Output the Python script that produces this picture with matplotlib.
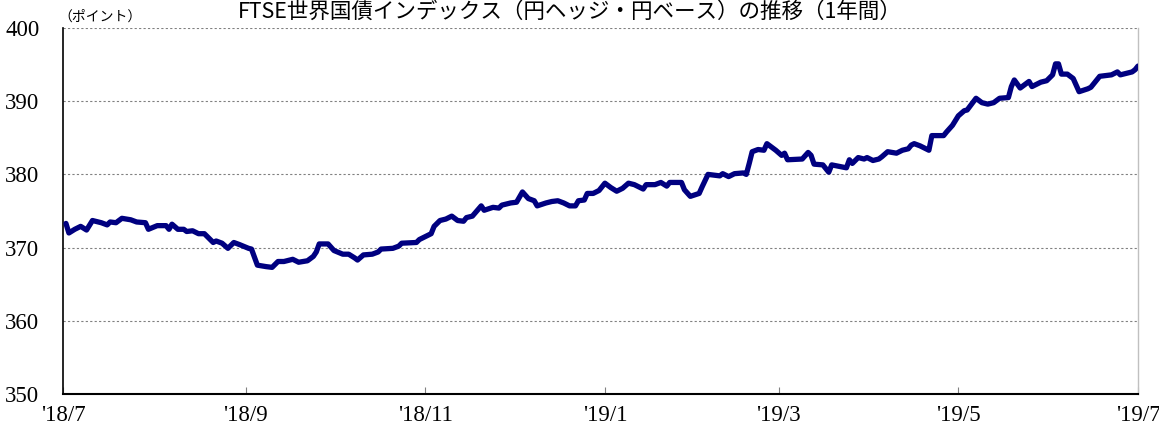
import matplotlib
matplotlib.use("Agg")
import matplotlib.pyplot as plt
import pandas as pd

title = "FTSE世界国債インデックス（円ヘッジ・円ベース）の推移（1年間）"
unit_label = "（ポイント）"

dates = [
    "2018-07-02", "2018-07-03", "2018-07-05", "2018-07-07", "2018-07-09", "2018-07-11",
    "2018-07-14", "2018-07-16", "2018-07-17", "2018-07-19", "2018-07-21", "2018-07-24",
    "2018-07-26", "2018-07-29", "2018-07-30", "2018-08-02", "2018-08-05", "2018-08-06",
    "2018-08-07", "2018-08-09", "2018-08-11", "2018-08-12", "2018-08-14", "2018-08-16",
    "2018-08-18", "2018-08-21", "2018-08-22", "2018-08-24", "2018-08-26", "2018-08-28",
    "2018-08-30", "2018-09-02", "2018-09-03", "2018-09-05", "2018-09-08", "2018-09-10",
    "2018-09-12", "2018-09-14", "2018-09-17", "2018-09-19", "2018-09-22", "2018-09-24",
    "2018-09-25", "2018-09-26", "2018-09-29", "2018-10-01", "2018-10-04", "2018-10-06",
    "2018-10-08", "2018-10-09", "2018-10-11", "2018-10-14", "2018-10-16", "2018-10-17",
    "2018-10-21", "2018-10-23", "2018-10-24", "2018-10-29", "2018-10-30", "2018-11-01",
    "2018-11-03", "2018-11-04", "2018-11-06", "2018-11-08", "2018-11-10", "2018-11-12",
    "2018-11-14", "2018-11-15", "2018-11-17", "2018-11-20", "2018-11-21", "2018-11-24",
    "2018-11-26", "2018-11-27", "2018-11-30", "2018-12-02", "2018-12-04", "2018-12-06",
    "2018-12-08", "2018-12-09", "2018-12-12", "2018-12-14", "2018-12-16", "2018-12-18",
    "2018-12-20", "2018-12-22", "2018-12-23", "2018-12-25", "2018-12-26", "2018-12-28",
    "2018-12-30", "2019-01-01", "2019-01-03", "2019-01-05", "2019-01-07", "2019-01-09",
    "2019-01-11", "2019-01-14", "2019-01-15", "2019-01-18", "2019-01-20", "2019-01-22",
    "2019-01-23", "2019-01-27", "2019-01-28", "2019-01-30", "2019-02-02", "2019-02-03",
    "2019-02-05", "2019-02-07", "2019-02-09", "2019-02-10", "2019-02-12", "2019-02-14",
    "2019-02-17", "2019-02-18", "2019-02-19", "2019-02-20", "2019-02-22", "2019-02-24",
    "2019-02-25", "2019-02-28", "2019-03-02", "2019-03-03", "2019-03-04", "2019-03-09",
    "2019-03-11", "2019-03-12", "2019-03-13", "2019-03-16", "2019-03-18", "2019-03-19",
    "2019-03-24", "2019-03-25", "2019-03-26", "2019-03-28", "2019-03-30", "2019-03-31",
    "2019-04-02", "2019-04-04", "2019-04-05", "2019-04-07", "2019-04-10", "2019-04-12",
    "2019-04-14", "2019-04-15", "2019-04-16", "2019-04-18", "2019-04-21", "2019-04-22",
    "2019-04-26", "2019-04-27", "2019-04-29", "2019-05-01", "2019-05-03", "2019-05-04",
    "2019-05-07", "2019-05-09", "2019-05-11", "2019-05-13", "2019-05-15", "2019-05-18",
    "2019-05-19", "2019-05-20", "2019-05-22", "2019-05-23", "2019-05-25", "2019-05-26",
    "2019-05-29", "2019-05-31", "2019-06-02", "2019-06-03", "2019-06-04", "2019-06-05",
    "2019-06-07", "2019-06-09", "2019-06-11", "2019-06-14", "2019-06-15", "2019-06-18",
    "2019-06-20", "2019-06-22", "2019-06-24", "2019-06-25", "2019-06-27", "2019-06-29",
    "2019-06-30", "2019-07-01",
]

values = [
    373.3, 372.0, 372.5, 372.9, 372.4, 373.7,
    373.4, 373.1, 373.5, 373.4, 374.0, 373.8,
    373.5, 373.4, 372.5, 373.0, 373.0, 372.5,
    373.2, 372.5, 372.5, 372.2, 372.3, 371.9,
    371.9, 370.7, 370.9, 370.6, 369.9, 370.7,
    370.4, 369.9, 369.8, 367.6, 367.4, 367.3,
    368.1, 368.1, 368.4, 368.0, 368.2, 368.8,
    369.4, 370.5, 370.5, 369.6, 369.1, 369.1,
    368.6, 368.3, 369.0, 369.1, 369.4, 369.8,
    369.9, 370.2, 370.6, 370.7, 371.1, 371.5,
    371.9, 372.9, 373.7, 373.9, 374.3, 373.7,
    373.6, 374.1, 374.3, 375.7, 375.1, 375.5,
    375.4, 375.8, 376.1, 376.2, 377.6, 376.7,
    376.4, 375.7, 376.1, 376.3, 376.4, 376.1,
    375.7, 375.7, 376.4, 376.5, 377.4, 377.4,
    377.8, 378.8, 378.2, 377.7, 378.1, 378.8,
    378.6, 378.0, 378.6, 378.6, 378.9, 378.4,
    378.9, 378.9, 377.9, 377.0, 377.4, 378.3,
    380.0, 379.9, 379.8, 380.1, 379.7, 380.1,
    380.2, 380.0, 381.5, 383.1, 383.4, 383.3,
    384.2, 383.3, 382.6, 382.9, 382.0, 382.1,
    383.0, 382.6, 381.4, 381.3, 380.3, 381.3,
    380.9, 382.0, 381.5, 382.3, 382.1, 382.3,
    381.9, 382.1, 382.4, 383.1, 382.9, 383.3,
    383.5, 384.0, 384.2, 383.9, 383.3, 385.3,
    385.3, 385.8, 386.7, 388.0, 388.7, 388.8,
    390.4, 389.8, 389.6, 389.8, 390.4, 390.5,
    392.0, 392.9, 391.8, 392.1, 392.7, 392.0,
    392.6, 392.8, 393.6, 395.1, 395.1, 393.7,
    393.7, 393.1, 391.3, 391.7, 391.9, 393.4,
    393.5, 393.6, 394.0, 393.6, 393.8, 394.0,
    394.3, 394.8,
]

tick_dates = ["2018-07-01", "2018-09-01", "2018-11-01", "2019-01-01",
              "2019-03-01", "2019-05-01", "2019-07-01"]
tick_labels = ["'18/7", "'18/9", "'18/11", "'19/1", "'19/3", "'19/5", "'19/7"]
y_ticks = [350, 360, 370, 380, 390, 400]

x = pd.to_datetime(dates)
xt = pd.to_datetime(tick_dates)

W, H = 1159, 430
fig = plt.figure(figsize=(W / 100, H / 100), dpi=100)
L, R, T, B = 63, 1138, 28, 394
ax = fig.add_axes([L / W, 1 - B / H, (R - L) / W, (B - T) / H])

ax.plot(x, values, color="#000080", lw=3.8, solid_joinstyle="round",
        solid_capstyle="round", zorder=3)

ax.set_xlim(xt[0], xt[-1])
ax.set_ylim(350, 400)
ax.set_yticks(y_ticks)
ax.set_xticks(xt)
ax.set_xticklabels(tick_labels)

serif = ["Liberation Serif", "DejaVu Serif"]
for lab in ax.get_xticklabels() + ax.get_yticklabels():
    lab.set_family(serif)
    lab.set_fontsize(16.5)

ax.tick_params(axis="y", length=0, pad=17)
ax.tick_params(axis="x", direction="in", length=5, width=0.8,
               color="#808080", pad=8)

ax.yaxis.grid(True, color="#808080", linestyle=(0, (2, 2)), lw=0.8)
ax.set_axisbelow(True)

ax.spines["top"].set_visible(False)
ax.spines["right"].set_color("#c0c0c0")
ax.spines["right"].set_linewidth(1.0)
ax.spines["left"].set_color("black")
ax.spines["left"].set_linewidth(1.2)
ax.spines["bottom"].set_color("black")
ax.spines["bottom"].set_linewidth(1.5)

fig.text(100 / W, 1 - 17 / H, unit_label, fontsize=10,
         family=["Noto Sans CJK JP", "DejaVu Sans"], ha="center", va="center")
fig.text(570 / W, 1 - 1 / H, title, fontsize=15.5,
         family=["Noto Sans CJK JP", "DejaVu Sans"], ha="center", va="top")

fig.savefig("out.png", dpi=100)
